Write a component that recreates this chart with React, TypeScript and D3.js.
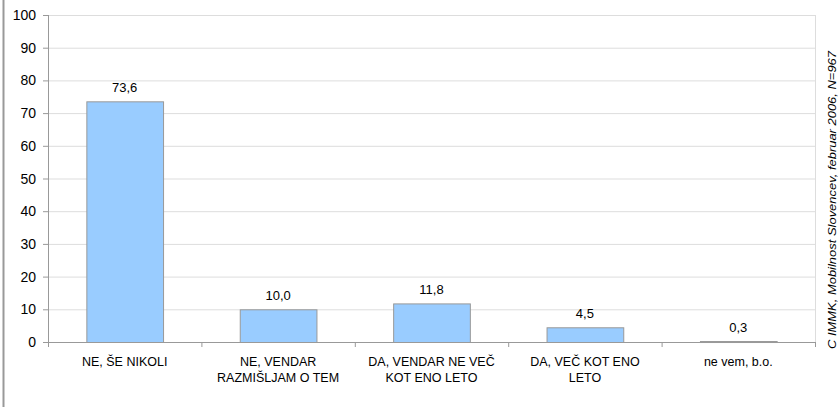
import * as d3 from "d3";

const categories = [
  ["NE, ŠE NIKOLI"],
  ["NE, VENDAR", "RAZMIŠLJAM O TEM"],
  ["DA, VENDAR NE VEČ", "KOT ENO LETO"],
  ["DA, VEČ KOT ENO", "LETO"],
  ["ne vem, b.o."],
];
const values = [73.6, 10.0, 11.8, 4.5, 0.3];
const yTicks = [0, 10, 20, 30, 40, 50, 60, 70, 80, 90, 100];
const source = "C IMMK, Mobilnost Slovencev, februar 2006, N=967";

const W = 838;
const H = 407;
const left = 48;
const right = 815;
const top = 15;
const bottom = 342;

export default function App() {
  const x = d3
    .scaleBand<number>()
    .domain(values.map((_, i) => i))
    .range([left, right])
    .paddingInner(0.5)
    .paddingOuter(0.25);
  const y = d3.scaleLinear().domain([0, 100]).range([bottom, top]);
  const step = (right - left) / values.length;
  const fmt = (v: number) => v.toFixed(1).replace(".", ",");

  return (
    <svg
      width={W}
      height={H}
      style={{ position: "absolute", left: 0, top: 0, fontFamily: "Liberation Sans, Arial, sans-serif" }}
    >
      <rect width={W} height={H} fill="#fff" />
      <line x1={3.5} x2={3.5} y1={0} y2={H} stroke="#999" strokeWidth={2} />
      {/* grid */}
      {yTicks.map((t) => (
        <g key={t}>
          <line x1={left} x2={right} y1={y(t) + 0.5} y2={y(t) + 0.5} stroke="#ddd" />
          <line x1={left - 5} x2={left} y1={y(t) + 0.5} y2={y(t) + 0.5} stroke="#999" />
          <text x={left - 12} y={y(t) + 5} fontSize={14} textAnchor="end" fill="#000">
            {t}
          </text>
        </g>
      ))}
      <line x1={right + 0.5} x2={right + 0.5} y1={top} y2={bottom} stroke="#ddd" />
      {/* bars */}
      {values.map((v, i) => (
        <g key={i}>
          <rect
            x={x(i)! + 0.5}
            y={y(v) + 0.5}
            width={x.bandwidth()}
            height={Math.max(bottom - y(v), 1)}
            fill="#99ccff"
            stroke="#999"
          />
          <text x={x(i)! + x.bandwidth() / 2} y={y(v) - 9} fontSize={13} textAnchor="middle" fill="#000">
            {fmt(v)}
          </text>
        </g>
      ))}
      {/* axes */}
      <line x1={left + 0.5} x2={left + 0.5} y1={top} y2={bottom + 5} stroke="#999" />
      <line x1={left} x2={right + 1} y1={bottom + 0.5} y2={bottom + 0.5} stroke="#999" />
      {d3.range(values.length + 1).map((k) => (
        <line
          key={k}
          x1={left + k * step + 0.5}
          x2={left + k * step + 0.5}
          y1={bottom}
          y2={bottom + 5}
          stroke="#999"
        />
      ))}
      {categories.map((lines, i) => (
        <text key={i} x={x(i)! + x.bandwidth() / 2} fontSize={12.5} textAnchor="middle" fill="#000">
          {lines.map((l, j) => (
            <tspan key={j} x={x(i)! + x.bandwidth() / 2} y={366 + j * 16}>
              {l}
            </tspan>
          ))}
        </text>
      ))}
      <text
        transform={`translate(836,349) rotate(-90)`}
        fontSize={10.5}
        fontStyle="italic"
        fill="#000"
        textLength={298}
        lengthAdjust="spacingAndGlyphs"
      >
        {source}
      </text>
    </svg>
  );
}
